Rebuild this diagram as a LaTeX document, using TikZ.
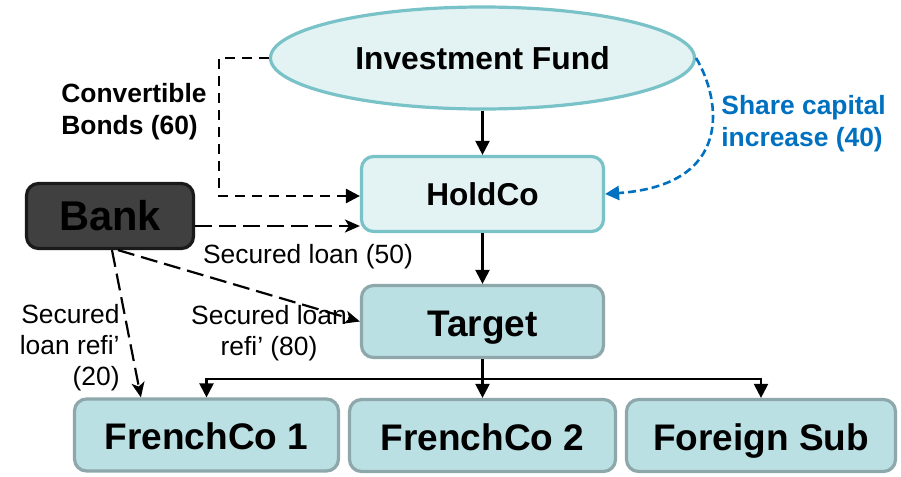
\documentclass[tikz,border=0pt]{standalone}
\usepackage{fontspec}
\setmainfont{Liberation Sans}
\usetikzlibrary{arrows.meta,positioning,calc,shapes.geometric}
\definecolor{ink}{HTML}{000000}
\definecolor{palefill}{HTML}{E3F3F4}
\definecolor{paleline}{HTML}{78C2C8}
\definecolor{subfill}{HTML}{BAE0E3}
\definecolor{subline}{HTML}{8DA7AA}
\definecolor{bankfill}{HTML}{404040}
\definecolor{bankline}{HTML}{1A1A1A}
\definecolor{equity}{HTML}{0070C0}
\tikzset{
  fund/.style={ellipse,draw=paleline,fill=palefill,line width=1.6pt,minimum width=212pt,minimum height=51pt,font=\fontsize{15.9}{18}\selectfont\bfseries},
  holdbox/.style={draw=paleline,fill=palefill,line width=1.6pt,rounded corners=6pt,minimum width=121pt,minimum height=37.5pt,font=\fontsize{15.8}{18}\selectfont\bfseries},
  subbox/.style={draw=subline,fill=subfill,line width=1.6pt,rounded corners=6pt,minimum width=#1,minimum height=36pt,text height=16.5pt,text depth=2pt,font=\fontsize{18.5}{21}\selectfont\bfseries},
  lender/.style={draw=bankline,fill=bankfill,line width=1.6pt,rounded corners=6pt,minimum width=83.5pt,minimum height=32.5pt,font=\fontsize{20.8}{24}\selectfont\bfseries},
  flow/.style={-{Triangle[length=7pt,width=7pt]},line width=1.1pt,draw=ink},
  bond/.style={flow,line width=1.3pt,dash pattern=on 5pt off 3.5pt},
  loan/.style={-{Stealth[length=7.5pt,width=6.5pt,inset=2pt]},line width=1.1pt,draw=ink,dash pattern=on 8.5pt off 3.5pt},
  capital/.style={-{Triangle[length=7pt,width=7pt]},line width=1.3pt,draw=equity,dash pattern=on 4pt off 2pt},
  note/.style={font=\fontsize{13.2}{15.5}\selectfont,inner sep=0pt},
  boldnote/.style={font=\fontsize{13.2}{16}\selectfont\bfseries,inner sep=0pt,align=left}
}

\begin{document}
\begin{tikzpicture}[x=0.5pt,y=-0.5pt]
  \useasboundingbox (0,0) rectangle (901,477);
  % entities
  \node[fund] (fund) at (482.5,58) {Investment Fund};
  \node[holdbox] (hold) at (482.5,194) {HoldCo};
  \node[subbox=121pt] (target) at (482.5,321.5) {Target};
  \node[lender] (bank) at (110,216) {Bank};
  \node[subbox=132pt] (fr1) at (206.5,435) {FrenchCo 1};
  \node[subbox=133pt] (fr2) at (482.5,435.5) {FrenchCo 2};
  \node[subbox=134.5pt] (sub) at (761,435.5) {Foreign Sub};
  % ownership
  \draw[flow] (fund) -- (hold);
  \draw[flow] (hold) -- (target);
  \draw[line width=1.1pt] (target.south) -- ++(0,20) coordinate (bus);
  \draw[flow] (bus) -| (fr1.north);
  \draw[flow] (bus) -- (fr2.north);
  \draw[flow] (bus) -| (sub.north);
  % financing
  \draw[bond] (fund.west) -- ++(-50,0) |- ([yshift=-1pt]hold.west);
  \draw[loan] (bank.east |- {$(hold.west)+(0,32)$}) -- ($(hold.west)+(0,32)$);
  \draw[loan] ([xshift=4pt]bank.south) -- (target.west);
  \draw[loan] ([xshift=1pt]bank.south) -- ($(fr1.north west)+(68,0)$);
  \draw[capital] (fund.east) .. controls +(25,42) and +(129,-9) .. (hold.east);
  % labels
  \node[boldnote,anchor=west] (cblabel) at (61,112) {Convertible\\Bonds (60)};
  \node[boldnote,anchor=west,text=equity] (sclabel) at (721,124) {Share capital\\increase (40)};
  \node[note] (sl50) at (308,257) {Secured loan (50)};
  \node[note,align=center] (sl80) at (269,333) {Secured loan\\refi’ (80)};
  \node[note,align=right,anchor=east] (sl20) at (120,348) {Secured\\loan refi’\\(20)};
\end{tikzpicture}
\end{document}
